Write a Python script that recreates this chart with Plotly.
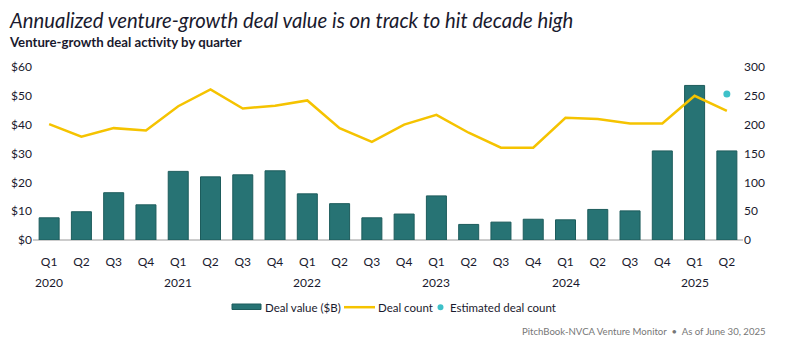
import plotly.graph_objects as go

quarters = ["Q1", "Q2", "Q3", "Q4"] * 5 + ["Q1", "Q2"]
years = ["2020", "2021", "2022", "2023", "2024", "2025"]
deal_value = [7.7, 9.8, 16.4, 12.2, 23.8, 21.9, 22.6, 24.0, 16.0, 12.6, 7.7, 9.0,
              15.3, 5.4, 6.2, 7.2, 7.0, 10.6, 10.1, 30.9, 53.6, 30.9]
deal_count = [201, 179, 194, 190, 232, 261, 228, 233, 242, 194, 170, 200,
              217, 186, 160, 160, 212, 210, 202, 202, 250, 224]
est_index = [21]
est_count = [253]
left_ticks = [0, 10, 20, 30, 40, 50, 60]
left_labels = ["$0", "$10", "$20", "$30", "$40", "$50", "$60"]
right_ticks = [0, 50, 100, 150, 200, 250, 300]
legend_names = ["Deal value ($B)", "Deal count", "Estimated deal count"]

FONT = "Lato"
TXT = "#1a1a2e"
BAR = "#277374"
GOLD = "#F5C300"
CYAN = "#3EC1C9"
x = list(range(len(quarters)))

fig = go.Figure()
fig.add_trace(go.Bar(x=x, y=deal_value, name=legend_names[0],
                     marker=dict(color=BAR, line=dict(color="#1d5c5c", width=1)),
                     width=0.62))
fig.add_trace(go.Scatter(x=x, y=deal_count, name=legend_names[1], yaxis="y2",
                         mode="lines", line=dict(color=GOLD, width=2.5)))
fig.add_trace(go.Scatter(x=est_index, y=est_count, name=legend_names[2], yaxis="y2",
                         mode="markers", marker=dict(color=CYAN, size=7)))

PL, PW = 33, 710
plot_h = 173
def py(p):
    return (240.5 - p) / plot_h
def px(p):
    return (p - PL) / PW

annotations = [
    dict(text="<i>Annualized venture-growth deal value is on track to hit decade high</i>",
         xref="paper", yref="paper", x=px(7), y=py(20), xanchor="left", yanchor="middle",
         showarrow=False, font=dict(family=FONT, size=20.3, color=TXT)),
    dict(text="<b>Venture-growth deal activity by quarter</b>",
         xref="paper", yref="paper", x=px(7), y=py(42), xanchor="left", yanchor="middle",
         showarrow=False, font=dict(family=FONT, size=13.2, color=TXT)),
    dict(text="PitchBook-NVCA Venture Monitor  •  As of June 30, 2025",
         xref="paper", yref="paper", x=px(768), y=py(332), xanchor="right", yanchor="middle",
         showarrow=False, font=dict(family=FONT, size=9.6, color="#777777")),
]
for i, yr in enumerate(years):
    annotations.append(dict(text=yr, xref="x", yref="paper", x=i * 4, y=py(283),
                            xanchor="center", yanchor="middle", showarrow=False,
                            font=dict(family=FONT, size=12, color=TXT)))

# custom legend
leg_y = 307.7
for name, lx in zip(legend_names, [263, 376, 448]):
    annotations.append(dict(text=name, xref="paper", yref="paper", x=px(lx), y=py(leg_y),
                            xanchor="left", yanchor="middle", showarrow=False,
                            font=dict(family=FONT, size=11.5, color=TXT)))
shapes = [
    dict(type="rect", xref="paper", yref="paper", x0=px(232), x1=px(261),
         y0=py(310), y1=py(304.5), fillcolor=BAR, line=dict(color="#1d5c5c", width=1)),
    dict(type="line", xref="paper", yref="paper", x0=px(344), x1=px(375),
         y0=py(leg_y), y1=py(leg_y), line=dict(color=GOLD, width=2.5)),
    dict(type="circle", xref="paper", yref="paper", x0=px(437.5), x1=px(443.5),
         y0=py(leg_y + 3), y1=py(leg_y - 3), fillcolor=CYAN, line=dict(width=0)),
]

fig.update_layout(
    width=800, height=344,
    margin=dict(l=PL, r=800 - PL - PW, t=67, b=104, pad=0),
    paper_bgcolor="white", plot_bgcolor="white",
    font=dict(family=FONT, size=12, color=TXT),
    xaxis=dict(tickmode="array", tickvals=x, ticktext=quarters, range=[-0.5, 21.5],
               showgrid=False, zeroline=False, showline=False, ticks="", ticklen=0,
               ticklabelstandoff=13, tickfont=dict(size=12, color=TXT)),
    yaxis=dict(range=[0, 60], tickvals=left_ticks, ticktext=left_labels, showgrid=False,
               zeroline=True, zerolinecolor="#cccccc", zerolinewidth=1.5,
               showline=False, ticks="", tickfont=dict(size=12, color=TXT)),
    yaxis2=dict(range=[0, 300], tickvals=right_ticks, overlaying="y", side="right",
                showgrid=False, zeroline=False, showline=False, ticks="",
                tickfont=dict(size=12, color=TXT)),
    showlegend=False,
    annotations=annotations,
    shapes=shapes,
)
fig.write_html("out.html")
